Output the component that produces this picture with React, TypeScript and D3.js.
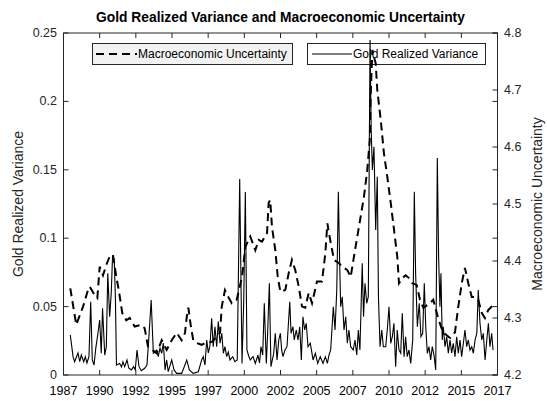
import React from "react";
import * as d3 from "d3";

// Macroeconomic uncertainty (right axis), decimal years
const muYears = [1987.47,1987.88,1988.35,1988.69,1988.81,1989.16,1989.34,1989.5,1989.73,1989.96,1990.19,1990.42,1990.65,1990.84,1991.06,1991.34,1991.58,1991.92,1992.38,1992.61,1992.84,1993.44,1993.79,1994.13,1994.48,1994.82,1995.17,1995.4,1995.52,1995.63,1995.79,1995.97,1996.21,1996.55,1996.78,1997.26,1997.82,1997.94,1998.16,1998.39,1998.63,1998.97,1999.34,1999.57,1999.91,2000.26,2000.49,2000.72,2001.07,2001.18,2001.29,2001.41,2001.64,2001.81,2001.99,2002.33,2002.57,2002.79,2003.02,2003.26,2003.49,2003.71,2003.95,2004.18,2004.52,2004.87,2005.1,2005.24,2005.35,2005.47,2005.7,2006.04,2006.27,2006.62,2006.85,2007.08,2007.31,2007.54,2007.77,2008.0,2008.17,2008.23,2008.35,2008.46,2008.58,2008.69,2008.93,2009.15,2009.38,2009.62,2009.85,2010.07,2010.19,2010.42,2010.65,2010.88,2011.11,2011.41,2011.64,2011.87,2012.33,2012.56,2012.89,2013.23,2013.72,2014.06,2014.29,2014.53,2014.75,2014.98,2015.22,2015.45,2015.67,2015.91,2016.13,2016.36,2016.6,2016.76];
const muValues = [4.352,4.288,4.32,4.349,4.355,4.34,4.335,4.39,4.375,4.393,4.408,4.411,4.372,4.346,4.309,4.296,4.3,4.285,4.288,4.282,4.25,4.238,4.261,4.244,4.261,4.274,4.261,4.274,4.302,4.318,4.288,4.261,4.256,4.253,4.256,4.258,4.274,4.32,4.349,4.337,4.326,4.332,4.372,4.425,4.443,4.419,4.437,4.434,4.449,4.502,4.507,4.46,4.419,4.372,4.346,4.349,4.379,4.402,4.384,4.355,4.32,4.318,4.344,4.326,4.364,4.364,4.414,4.466,4.449,4.432,4.402,4.396,4.39,4.384,4.372,4.408,4.443,4.478,4.513,4.56,4.612,4.688,4.77,4.758,4.747,4.7,4.647,4.589,4.548,4.502,4.454,4.408,4.361,4.37,4.375,4.37,4.361,4.358,4.332,4.318,4.326,4.332,4.3,4.275,4.265,4.275,4.32,4.361,4.388,4.361,4.337,4.337,4.332,4.309,4.3,4.314,4.32,4.323];

// Gold realized variance (left axis), decimal years
const rvYears = [1987.47,1987.66,1987.77,1988.0,1988.12,1988.23,1988.4,1988.51,1988.62,1988.76,1988.88,1988.99,1989.11,1989.23,1989.38,1989.5,1989.61,1989.7,1989.85,1989.96,1990.06,1990.19,1990.3,1990.39,1990.51,1990.59,1990.66,1990.88,1991.01,1991.11,1991.23,1991.39,1991.51,1991.69,1991.85,1991.96,1992.08,1992.22,1992.38,1992.61,1992.77,1992.89,1993.06,1993.21,1993.44,1993.55,1993.67,1993.79,1993.9,1994.02,1994.13,1994.24,1994.48,1994.64,1994.82,1995.17,1995.52,1995.7,1995.97,1996.32,1996.55,1996.66,1996.78,1996.9,1997.01,1997.13,1997.24,1997.35,1997.47,1997.59,1997.7,1997.82,1997.94,1998.05,1998.16,1998.28,1998.39,1998.51,1998.7,1998.85,1999.01,1999.18,1999.34,1999.46,1999.57,1999.68,1999.8,1999.91,2000.1,2000.26,2000.44,2000.55,2000.65,2000.77,2000.88,2001.02,2001.11,2001.23,2001.34,2001.53,2001.64,2001.76,2001.88,2001.99,2002.08,2002.17,2002.31,2002.45,2002.64,2002.73,2002.86,2002.95,2003.09,2003.21,2003.33,2003.44,2003.55,2003.67,2003.78,2003.9,2004.06,2004.25,2004.41,2004.57,2004.75,2004.94,2005.1,2005.24,2005.35,2005.47,2005.65,2005.77,2005.89,2006.0,2006.09,2006.16,2006.27,2006.39,2006.51,2006.62,2006.73,2006.85,2007.03,2007.15,2007.27,2007.38,2007.49,2007.65,2007.74,2007.84,2007.96,2008.07,2008.19,2008.27,2008.35,2008.46,2008.58,2008.69,2008.77,2008.88,2009.0,2009.11,2009.27,2009.38,2009.5,2009.62,2009.73,2009.84,2009.96,2010.07,2010.19,2010.31,2010.42,2010.54,2010.65,2010.76,2010.88,2011.0,2011.14,2011.25,2011.34,2011.46,2011.59,2011.71,2011.83,2011.94,2012.04,2012.15,2012.26,2012.38,2012.49,2012.61,2012.73,2012.84,2012.93,2013.02,2013.09,2013.18,2013.25,2013.37,2013.49,2013.6,2013.72,2013.83,2013.94,2014.06,2014.18,2014.29,2014.41,2014.52,2014.64,2014.75,2014.87,2014.98,2015.1,2015.22,2015.33,2015.45,2015.57,2015.67,2015.79,2015.91,2016.02,2016.14,2016.26,2016.37,2016.48,2016.6,2016.69];
const rvValues = [0.0292,0.0134,0.0097,0.0161,0.0097,0.0146,0.0097,0.0134,0.0088,0.0134,0.0536,0.011,0.0073,0.0195,0.0305,0.0402,0.0159,0.0488,0.0146,0.0207,0.0743,0.0426,0.0597,0.0865,0.0841,0.055,0.0073,0.0085,0.0058,0.0097,0.0061,0.011,0.0051,0.0037,0.0061,0.0037,0.0183,0.0061,0.0031,0.0049,0.0073,0.0256,0.0548,0.0159,0.0183,0.0134,0.0197,0.0159,0.0234,0.0037,0.011,0.0024,0.011,0.0037,0.0012,0.0012,0.011,0.0037,0.0012,0.0024,0.011,0.0134,0.0073,0.0256,0.0161,0.0219,0.0414,0.0207,0.0353,0.0207,0.039,0.0232,0.0305,0.0159,0.0207,0.0134,0.0168,0.011,0.0134,0.0097,0.011,0.1433,0.0085,0.0548,0.1338,0.0183,0.0139,0.011,0.0134,0.0085,0.0146,0.0088,0.0207,0.0146,0.0524,0.0085,0.0305,0.067,0.0061,0.0159,0.0305,0.011,0.0256,0.0305,0.0183,0.0134,0.0183,0.0207,0.0536,0.0305,0.0353,0.0256,0.0329,0.0256,0.0353,0.011,0.0426,0.0329,0.0378,0.0207,0.0232,0.011,0.0159,0.0085,0.0134,0.0085,0.0134,0.0085,0.0146,0.0183,0.0499,0.0329,0.0621,0.134,0.0817,0.0499,0.0572,0.0329,0.0426,0.0232,0.0329,0.0207,0.0183,0.0256,0.0146,0.0329,0.0183,0.0817,0.0426,0.067,0.0524,0.0572,0.2449,0.1791,0.1499,0.1669,0.106,0.145,0.0572,0.0207,0.0329,0.0207,0.0207,0.0329,0.0499,0.0232,0.028,0.0378,0.0061,0.0329,0.0183,0.0159,0.0451,0.0134,0.028,0.0134,0.0183,0.0085,0.0256,0.134,0.0743,0.0353,0.0524,0.028,0.0305,0.067,0.0353,0.0159,0.0207,0.011,0.0207,0.0146,0.0037,0.1586,0.0865,0.0499,0.0743,0.0256,0.0353,0.0207,0.028,0.0159,0.0256,0.0161,0.0232,0.0134,0.028,0.0159,0.0256,0.0134,0.0232,0.0329,0.0207,0.0256,0.0183,0.0207,0.0159,0.0256,0.0305,0.0621,0.0378,0.0256,0.0305,0.011,0.0256,0.0378,0.0207,0.0305,0.0183];

const xTickLabels = ["1987","1990","1992","1995","1997","2000","2002","2005","2007","2010","2012","2015","2017"];
const leftTicks = [0, 0.05, 0.1, 0.15, 0.2, 0.25];
const leftTickLabels = ["0","0.05","0.1","0.15","0.2","0.25"];
const rightTicks = [4.2, 4.3, 4.4, 4.5, 4.6, 4.7, 4.8];
const rightTickLabels = ["4.2","4.3","4.4","4.5","4.6","4.7","4.8"];
const titleText = "Gold Realized Variance and Macroeconomic Uncertainty";
const leftLabel = "Gold Realized Variance";
const rightLabel = "Macroeconomic Uncertainty";

const W = 547, H = 401;
const L = 63.5, R = 497.5, T = 33, B = 375;
const AX = "#262626";
const FONT = "'Liberation Sans', Arial, sans-serif";

export default function App() {
  const x = d3.scaleLinear().domain([1987, 2017]).range([L, R]);
  const yL = d3.scaleLinear().domain([0, 0.25]).range([B, T]);
  const yR = d3.scaleLinear().domain([4.2, 4.8]).range([B, T]);
  const xTicks = xTickLabels.map((_, i) => 1987 + 2.5 * i);

  const rvLine = d3.line<number>().x((_, i) => x(rvYears[i])).y((d) => yL(d));
  const muLine = d3.line<number>().x((_, i) => x(muYears[i])).y((d) => yR(d));
  const tl = 5;

  return (
    <svg width={W} height={H} style={{ position: "absolute", left: 0, top: 0, background: "#fff" }} fontFamily={FONT}>
      <rect x={0} y={0} width={W} height={H} fill="#fff" />
      {/* legends */}
      <g>
        <rect x={92.5} y={43.5} width={200} height={21} fill="#f2f2f2" stroke={AX} strokeWidth={1} />
        <line x1={96} x2={137} y1={54} y2={54} stroke="#000" strokeWidth={2} strokeDasharray="8,5" />
        <text x={138} y={58} fontSize={12} fill="#000">Macroeconomic Uncertainty</text>
        <rect x={307.5} y={43.5} width={178} height={21} fill="#fff" stroke={AX} strokeWidth={1} />
        <line x1={312} x2={352} y1={54} y2={54} stroke="#000" strokeWidth={1} />
        <text x={353} y={58} fontSize={12} fill="#000">Gold Realized Variance</text>
      </g>
      {/* data */}
      <path d={muLine(muValues) || ""} fill="none" stroke="#000" strokeWidth={2} strokeDasharray="8,5" />
      <path d={rvLine(rvValues) || ""} fill="none" stroke="#000" strokeWidth={1.1} />
      {/* box */}
      <rect x={L} y={T} width={R - L} height={B - T} fill="none" stroke={AX} strokeWidth={1} />
      {/* x ticks */}
      {xTicks.map((t, i) => (
        <g key={"x" + i}>
          <line x1={x(t)} x2={x(t)} y1={B} y2={B - tl} stroke={AX} />
          <line x1={x(t)} x2={x(t)} y1={T} y2={T + tl} stroke={AX} />
          <text x={x(t)} y={395} fontSize={12.5} textAnchor="middle" fill="#000">{xTickLabels[i]}</text>
        </g>
      ))}
      {/* left ticks */}
      {leftTicks.map((t, i) => (
        <g key={"l" + i}>
          <line x1={L} x2={L + tl} y1={yL(t)} y2={yL(t)} stroke={AX} />
          <line x1={R} x2={R - tl} y1={yL(t)} y2={yL(t)} stroke={AX} />
          <text x={57} y={yL(t) + 4} fontSize={12.5} textAnchor="end" fill={AX}>{leftTickLabels[i]}</text>
        </g>
      ))}
      {/* right ticks */}
      {rightTicks.map((t, i) => (
        <g key={"r" + i}>
          <line x1={R} x2={R - tl} y1={yR(t)} y2={yR(t)} stroke={AX} />
          <text x={504} y={yR(t) + 4} fontSize={12.5} textAnchor="start" fill={AX}>{rightTickLabels[i]}</text>
        </g>
      ))}
      <text x={(L + R) / 2} y={22} fontSize={13.8} fontWeight="bold" textAnchor="middle" fill="#000">{titleText}</text>
      <text transform={`translate(23,${(T + B) / 2}) rotate(-90)`} fontSize={14} textAnchor="middle" fill={AX}>{leftLabel}</text>
      <text transform={`translate(542,${(T + B) / 2}) rotate(-90)`} fontSize={14} textAnchor="middle" fill={AX}>{rightLabel}</text>
    </svg>
  );
}
